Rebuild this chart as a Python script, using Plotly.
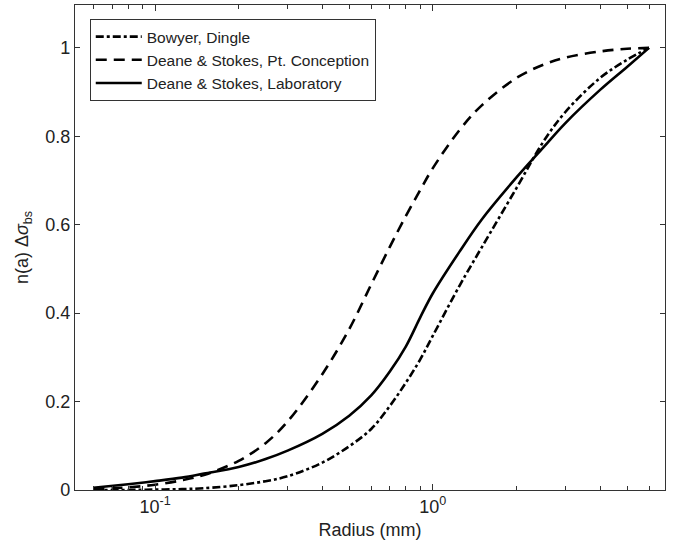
import numpy as np
import plotly.graph_objects as go

radius = [0.06, 0.08, 0.1, 0.125, 0.15, 0.2, 0.25, 0.3, 0.4, 0.5, 0.6, 0.7, 0.8,
          0.9, 1.0, 1.25, 1.5, 2.0, 2.5, 3.0, 4.0, 5.0, 6.0]
bowyer = [0.0, 0.0, 0.001, 0.002, 0.004, 0.011, 0.02, 0.031, 0.062, 0.099, 0.138,
          0.19, 0.243, 0.295, 0.349, 0.463, 0.549, 0.683, 0.788, 0.855, 0.932, 0.973, 1.0]
pt_conception = [0.002, 0.006, 0.012, 0.022, 0.034, 0.066, 0.106, 0.155, 0.262, 0.364,
                 0.465, 0.55, 0.62, 0.678, 0.728, 0.815, 0.87, 0.932, 0.962, 0.978,
                 0.992, 0.998, 1.0]
laboratory = [0.005, 0.013, 0.02, 0.028, 0.037, 0.052, 0.07, 0.089, 0.127, 0.168, 0.214,
              0.268, 0.325, 0.39, 0.445, 0.54, 0.612, 0.707, 0.775, 0.83, 0.905, 0.957, 1.0]

names = ["Bowyer, Dingle", "Deane &amp; Stokes, Pt. Conception", "Deane &amp; Stokes, Laboratory"]
x_tickvals = [0.1, 1.0]
x_ticktext = ["10<sup>-1</sup>", "10<sup>0</sup>"]
x_minor = [0.06, 0.07, 0.08, 0.09, 0.2, 0.3, 0.4, 0.5, 0.6, 0.7, 0.8, 0.9, 2, 3, 4, 5, 6]
y_tickvals = [0, 0.2, 0.4, 0.6, 0.8, 1.0]
y_ticktext = ["0", "0.2", "0.4", "0.6", "0.8", "1"]

FONT = "Liberation Sans, Arial"
fig = go.Figure()
styles = [("8px,3px,3px,3px", bowyer), ("11px,7px", pt_conception), ("solid", laboratory)]
for name, (dash, vals) in zip(names, styles):
    fig.add_trace(go.Scatter(x=radius, y=vals, mode="lines", name=name,
                             line=dict(color="black", width=2.6, dash=dash, shape="spline",
                                       smoothing=1.0)))

axis_common = dict(showline=True, linecolor="#333", linewidth=1.3, mirror="ticks",
                   ticks="inside", tickcolor="#333", showgrid=False, zeroline=False,
                   tickfont=dict(family=FONT, size=18, color="#222"))

fig.update_xaxes(type="log", range=[np.log10(0.0515), np.log10(6.85)],
                 tickvals=x_tickvals, ticktext=x_ticktext, ticklen=6,
                 minor=dict(tickvals=x_minor, ticks="inside", ticklen=4, tickcolor="#333"),
                 title=dict(text="Radius (mm)", standoff=7,
                            font=dict(family=FONT, size=18, color="#222")),
                 **axis_common)
fig.update_yaxes(range=[0, 1.097], tickvals=y_tickvals, ticktext=y_ticktext, ticklen=5,
                 title=dict(text="n(a) Δ<i>σ</i><sub>bs</sub>", standoff=11,
                            font=dict(family=FONT, size=18, color="#222")),
                 **axis_common)

fig.update_layout(
    width=679, height=548,
    margin=dict(l=75, r=14, t=5, b=58),
    plot_bgcolor="white", paper_bgcolor="white",
    legend=dict(x=0.025, y=0.971, xanchor="left", yanchor="top",
                bordercolor="#333", borderwidth=1, bgcolor="white",
                font=dict(family=FONT, size=15.5, color="#222"),
                tracegroupgap=0, itemwidth=46),
)

fig.write_html("out.html", config={"displayModeBar": False},
               post_script="document.body.style.margin='0px';")
